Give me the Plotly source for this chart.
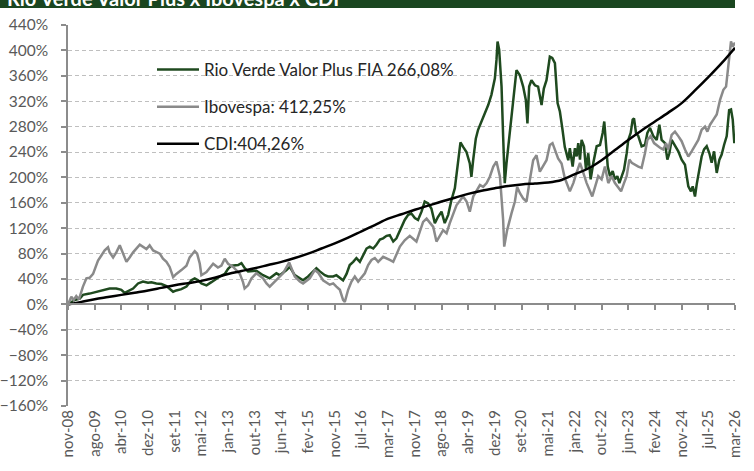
import plotly.graph_objects as go

# ---- tick labels (category axis, equally spaced) ----
x_labels = ["nov-08", "ago-09", "abr-10", "dez-10", "set-11", "mai-12", "jan-13", "out-13",
            "jun-14", "fev-15", "nov-15", "jul-16", "mar-17", "nov-17", "ago-18", "abr-19",
            "dez-19", "set-20", "mai-21", "jan-22", "out-22", "jun-23", "fev-24", "nov-24",
            "jul-25", "mar-26"]

# ---- Rio Verde Valor Plus FIA (position in tick units, cumulative %) ----
rv_pos = [0, 0.25, 0.44, 0.56, 0.81, 1.06, 1.31, 1.56, 1.81, 2.0, 2.125, 2.25, 2.44, 2.625, 2.81,
          3.0, 3.125, 3.31, 3.5, 3.69, 3.81, 3.94, 4.06, 4.25, 4.44, 4.625, 4.75, 4.875, 5.0, 5.19,
          5.375, 5.56, 5.69, 5.875, 6.0, 6.125, 6.375, 6.5, 6.625, 6.75, 7.06, 7.31, 7.56, 7.81,
          7.94, 8.19, 8.31, 8.5, 8.69, 8.81, 9.0, 9.19, 9.31, 9.44, 9.625, 9.75, 9.94, 10.06, 10.19,
          10.31, 10.44, 10.56, 10.69, 10.81, 10.94, 11.06, 11.19, 11.31, 11.44, 11.56, 11.69, 11.81,
          11.94, 12.06, 12.19, 12.31, 12.44, 12.62, 12.75, 12.87, 13.0, 13.12, 13.25, 13.37, 13.5,
          13.62, 13.75, 13.87, 14.0, 14.12, 14.25, 14.37, 14.5, 14.62, 14.71, 14.81, 14.935, 15.06,
          15.12, 15.185, 15.285, 15.37, 15.5, 15.62, 15.75, 15.87, 16.0, 16.06, 16.1, 16.16, 16.25,
          16.31, 16.37, 16.435, 16.5, 16.62, 16.71, 16.81, 16.935, 17.06, 17.16, 17.22, 17.285,
          17.37, 17.5, 17.62, 17.75, 17.835, 17.935, 18.06, 18.15, 18.25, 18.35, 18.435, 18.535,
          18.62, 18.75, 18.81, 18.915, 19.0, 19.065, 19.125, 19.19, 19.25, 19.34, 19.415, 19.5,
          19.59, 19.69, 19.75, 19.815, 19.94, 20.04, 20.1, 20.165, 20.23, 20.315, 20.415, 20.5,
          20.59, 20.665, 20.75, 20.84, 20.94, 21.0, 21.09, 21.165, 21.215, 21.29, 21.375, 21.5,
          21.625, 21.715, 21.815, 21.94, 22.065, 22.165, 22.25, 22.375, 22.465, 22.54, 22.625,
          22.75, 22.875, 23.0, 23.125, 23.25, 23.35, 23.415, 23.5, 23.565, 23.665, 23.75, 23.84,
          23.94, 24.04, 24.125, 24.215, 24.315, 24.415, 24.5, 24.59, 24.69, 24.78, 24.85, 24.915,
          24.975, 25.0]
rv_val = [0, 7, 9, 15, 17, 20, 23, 25, 25, 23, 18, 21, 25, 33, 36,
          34, 35, 33, 32, 29, 25, 20, 22, 24, 28, 38, 41, 38, 33, 30,
          35, 41, 44, 48, 56, 61, 62, 65, 57, 52, 53, 46, 41, 49,
          46, 54, 59, 46, 41, 38, 44, 52, 57, 52, 46, 44, 44, 46, 41,
          38, 48, 62, 67, 73, 67, 78, 88, 91, 88, 94, 102, 104,
          108, 109, 99, 104, 117, 133, 141, 143, 136, 133, 146, 162, 159,
          151, 128, 138, 146, 128, 141, 164, 183, 227, 255, 248, 240, 222,
          201, 227, 261, 275, 288, 298, 314, 330, 356, 385, 414, 401, 343,
          264, 191, 222, 248, 290, 332, 369, 361, 343, 322, 285, 343,
          353, 345, 343, 314, 340, 353, 390, 388, 380, 317, 304, 275,
          248, 227, 246, 217, 246, 233, 254, 228, 259, 249, 212, 238,
          197, 223, 238, 249, 251, 270, 288, 244, 217, 202, 210, 197,
          202, 191, 202, 212, 238, 259, 270, 291, 293, 270, 265, 249,
          251, 270, 278, 265, 259, 283, 259, 254, 228, 238, 259,
          249, 241, 228, 220, 186, 178, 186, 170, 189, 212, 233, 244,
          249, 238, 223, 241, 207, 228, 236, 251, 265, 306, 307, 291,
          254, 266.08]

# ---- Ibovespa ----
ibov_pos = [0, 0.125, 0.21, 0.31, 0.41, 0.56, 0.69, 0.81, 0.94, 1.0, 1.125, 1.25, 1.375, 1.5, 1.56,
            1.69, 1.81, 1.94, 2.06, 2.19, 2.31, 2.44, 2.69, 2.81, 2.94, 3.06, 3.19, 3.44, 3.56, 3.69,
            3.81, 3.94, 4.06, 4.25, 4.44, 4.56, 4.75, 4.84, 4.94, 5.0, 5.19, 5.44, 5.62, 5.75, 5.875,
            6.0, 6.19, 6.44, 6.56, 6.62, 6.75, 6.875, 7.06, 7.31, 7.44, 7.56, 7.875, 8.06, 8.29,
            8.375, 8.5, 8.69, 8.81, 9.06, 9.25, 9.375, 9.56, 9.81, 9.94, 10.06, 10.19, 10.31, 10.375,
            10.5, 10.625, 10.75, 10.875, 11.125, 11.25, 11.375, 11.5, 11.625, 11.81, 12.06, 12.19,
            12.44, 12.62, 12.81, 13.06, 13.31, 13.44, 13.69, 13.81, 14.06, 14.19, 14.31, 14.56,
            14.81, 14.94, 15.06, 15.19, 15.44, 15.56, 15.69, 15.81, 15.94, 16.06, 16.19, 16.25,
            16.31, 16.35, 16.46, 16.62, 16.75, 16.835, 16.94, 17.06, 17.185, 17.31, 17.435, 17.56,
            17.685, 17.935, 18.06, 18.16, 18.37, 18.5, 18.62, 18.81, 18.94, 19.06, 19.19, 19.315,
            19.44, 19.65, 19.75, 19.875, 20.0, 20.125, 20.25, 20.375, 20.5, 20.73, 20.84, 20.94,
            21.04, 21.13, 21.375, 21.5, 21.625, 21.715, 21.84, 21.965, 22.215, 22.315, 22.415,
            22.5, 22.625, 22.75, 22.875, 23.0, 23.125, 23.25, 23.375, 23.5, 23.625, 23.75, 23.875,
            23.965, 24.065, 24.19, 24.315, 24.44, 24.565, 24.665, 24.73, 24.79, 24.85, 24.915,
            24.975, 25.0]
ibov_val = [0, 12, 7, 13, 8, 28, 41, 42, 48, 54, 69, 77, 85, 90, 82,
            74, 82, 93, 80, 67, 74, 82, 94, 90, 87, 93, 85, 80, 72, 67,
            59, 43, 48, 54, 61, 74, 84, 80, 64, 46, 51, 64, 58, 61, 72,
            64, 59, 48, 35, 25, 30, 41, 49, 41, 33, 28, 41, 49, 66,
            57, 44, 36, 33, 41, 54, 50, 38, 31, 33, 28, 23, 7, 4,
            23, 36, 44, 36, 49, 62, 70, 73, 67, 75, 70, 67,
            91, 101, 108, 99, 130, 135, 122, 99, 117, 112, 128, 156,
            170, 162, 146, 170, 188, 185, 191, 201, 217, 225, 201, 170,
            133, 91, 117, 143, 162, 185, 175, 167, 162, 196, 227, 235,
            209, 227, 251, 254, 230, 222, 199, 178, 191, 207, 223, 207,
            191, 170, 183, 202, 197, 217, 191, 202, 191, 178, 191, 202,
            228, 223, 217, 215, 238, 259, 265, 254, 246, 244, 254,
            244, 267, 272, 265, 257, 244, 233, 241, 251, 259, 275, 280,
            272, 283, 291, 299, 322, 338, 343, 369, 396, 414, 406,
            411, 412.25]

# ---- CDI ----
cdi_pos = [0, 0.5, 1, 1.5, 2, 2.5, 3, 3.5, 4, 4.5, 5, 5.5, 6, 6.5, 7, 7.5, 8, 8.5, 9, 9.5, 10,
           10.5, 11, 11.5, 12, 12.5, 13, 13.5, 14, 14.5, 15, 15.5, 16, 16.5, 17, 17.5, 18, 18.5,
           19, 19.5, 20, 20.5, 21, 21.5, 22, 22.5, 23, 23.5, 24, 24.5, 25]
cdi_val = [0, 4, 8, 11.5, 15, 18.5, 22, 26, 30, 33.5, 37, 42, 48, 52.5, 57, 62, 67, 73, 80, 88, 96,
           105, 115, 125, 135, 142, 149, 155.5, 162, 168, 174, 179, 183, 186.5, 189, 190.5, 192, 196,
           205, 214, 227, 243, 259, 274, 288, 302, 317, 337, 358, 380, 404.26]

series_names = ["Rio Verde Valor Plus FIA 266,08%", "Ibovespa: 412,25%", "CDI:404,26%"]
title_text = "Rio Verde Valor Plus x Ibovespa x CDI"

GREEN = "#1f4a1f"
GRAY = "#8a8a8a"
FONT = "Lato"

fig = go.Figure()
fig.add_trace(go.Scatter(x=rv_pos, y=rv_val, mode="lines", name=series_names[0],
                         line=dict(color=GREEN, width=2.5), legendgroup="a"))
fig.add_trace(go.Scatter(x=ibov_pos, y=ibov_val, mode="lines", name=series_names[1],
                         line=dict(color=GRAY, width=2.5), legendgroup="b"))
fig.add_trace(go.Scatter(x=cdi_pos, y=cdi_val, mode="lines", name=series_names[2],
                         line=dict(color="#000000", width=2.5, shape="spline"), legendgroup="c"))
# empty trace to activate the zero-line axis with tick marks
fig.add_trace(go.Scatter(x=[], y=[], xaxis="x2", showlegend=False, hoverinfo="skip"))

tickpos = list(range(len(x_labels)))
L, R, T, B = 68, 19, 25, 65
W, H = 754, 471
pw, ph = W - L - R, H - T - B

def px_to_paper_x(px):
    return (px - L) / pw

def py_to_paper_y(py):
    return (H - B - py) / ph

fig.update_layout(
    width=W, height=H,
    margin=dict(l=L, r=R, t=T, b=B, autoexpand=False),
    paper_bgcolor="white", plot_bgcolor="white",
    font=dict(family=FONT, size=15, color="#595959"),
    xaxis=dict(range=[0, 25], tickvals=tickpos, ticktext=x_labels, tickangle=-90,
               showgrid=False, zeroline=False, showline=False, ticks="",
               tickfont=dict(family=FONT, size=15, color="#595959")),
    xaxis2=dict(range=[0, 25], overlaying="x", anchor="free", position=160 / 600,
                tickvals=tickpos, showticklabels=False, showgrid=False, zeroline=False,
                showline=True, linecolor="#8c8c8c", linewidth=1.5,
                ticks="outside", ticklen=5, tickcolor="#8c8c8c", tickwidth=1.5),
    yaxis=dict(range=[-160, 440], dtick=40, tick0=0, ticksuffix="%",
               showgrid=True, gridcolor="#bfbfbf", gridwidth=1, griddash="4px,3px",
               zeroline=False, showline=True, linecolor="#8c8c8c", linewidth=1.5,
               ticks="outside", ticklen=5, tickcolor="#8c8c8c", tickwidth=1.5,
               ticklabelstandoff=10,
               tickfont=dict(family=FONT, size=15.5, color="#595959")),
    legend=dict(x=px_to_paper_x(152), y=py_to_paper_y(52), xanchor="left", yanchor="top",
                bgcolor="rgba(0,0,0,0)", borderwidth=0, tracegroupgap=12, itemwidth=42,
                font=dict(family=FONT, size=17, color="#262626")),
    showlegend=True,
    shapes=[dict(type="rect", xref="paper", yref="paper",
                 x0=px_to_paper_x(0), x1=px_to_paper_x(735),
                 y0=py_to_paper_y(8), y1=py_to_paper_y(-5),
                 fillcolor="#1a4620", line=dict(width=0), layer="below")],
    annotations=[dict(text="<b>" + title_text + "</b>", xref="paper", yref="paper",
                      x=px_to_paper_x(5), y=py_to_paper_y(12), xanchor="left", yanchor="bottom",
                      showarrow=False, font=dict(family=FONT, size=20, color="white"))],
)

fig.write_html("out.html", config={"displayModeBar": False},
               post_script="document.body.style.margin='0';")
